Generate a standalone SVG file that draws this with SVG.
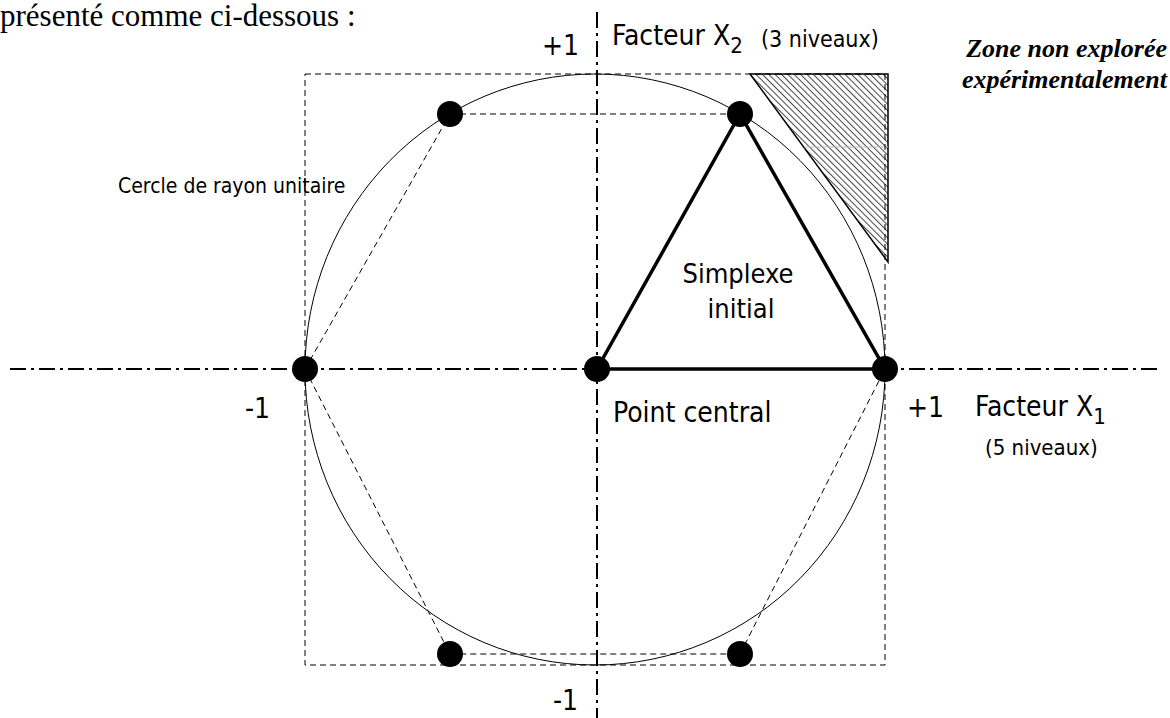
<svg xmlns="http://www.w3.org/2000/svg" width="1170" height="718" viewBox="0 0 1170 718">
<style>
.t{font-family:"DejaVu Sans Condensed","DejaVu Sans",sans-serif;font-stretch:condensed;fill:#000}
.z{font-family:"Liberation Serif",serif;font-weight:bold;font-style:italic;font-size:26px;fill:#000}
.axis{stroke:#000;stroke-width:2;stroke-dasharray:16 5 3 5;fill:none}
.dash{stroke:#000;stroke-width:1;stroke-dasharray:6 4;fill:none}
.dot{fill:#000}
</style>
<defs>
<pattern id="hatch" patternUnits="userSpaceOnUse" width="4.5" height="4.5" patternTransform="rotate(-45)">
<rect width="4.5" height="4.5" fill="#fff"/>
<line x1="0" y1="0" x2="0" y2="4.5" stroke="#444" stroke-width="2"/>
</pattern>
</defs>
<rect width="1170" height="718" fill="#fff"/>
<text x="0" y="26" font-family="Liberation Serif,serif" font-size="31">présenté comme ci-dessous :</text>
<g id="zone">
<polygon points="750,74 888,74 888,262" fill="url(#hatch)" stroke="#000" stroke-width="1.5"/>
<line x1="804" y1="147" x2="888" y2="147" stroke="#bbb" stroke-width="1"/>
</g>
<g id="square"><rect x="305" y="74" width="580" height="591" class="dash"/></g>
<g id="circle"><ellipse cx="595" cy="369.5" rx="290" ry="295.5" fill="none" stroke="#000" stroke-width="1"/></g>
<g id="axes">
<line x1="10" y1="369" x2="1162" y2="369" class="axis"/>
<line x1="597" y1="12" x2="597" y2="718" class="axis"/>
</g>
<g id="connectors">
<polyline points="450,114 740,114" class="dash"/>
<polyline points="305,369 450,114" class="dash"/>
<polyline points="305,369 450,654 740,654 885,369" class="dash"/>
<polygon points="597,369 885,369 740,114" fill="none" stroke="#000" stroke-width="3.5" stroke-linejoin="miter"/>
</g>
<g id="points">
<circle cx="305" cy="369" r="13" class="dot"/>
<circle cx="885" cy="369" r="13" class="dot"/>
<circle cx="597" cy="369" r="13" class="dot"/>
<circle cx="450" cy="114" r="13" class="dot"/>
<circle cx="740" cy="114" r="13" class="dot"/>
<circle cx="450" cy="654" r="13" class="dot"/>
<circle cx="740" cy="654" r="13" class="dot"/>
</g>
<g id="labels">
<text class="t" x="542" y="55" font-size="28">+1</text>
<text class="t" x="612" y="45" font-size="28">Facteur X<tspan font-size="22" dy="8">2</tspan></text>
<text class="t" x="761" y="47" font-size="23">(3 niveaux)</text>
<text class="z" x="1167" y="57" text-anchor="end">Zone non explorée</text>
<text class="z" x="1167" y="88" text-anchor="end">expérimentalement</text>
<text class="t" x="118" y="193" font-size="21">Cercle de rayon unitaire</text>
<text class="t" x="738" y="283" font-size="27" text-anchor="middle">Simplexe</text>
<text class="t" x="741" y="318" font-size="27" text-anchor="middle">initial</text>
<text class="t" x="613" y="422" font-size="28">Point central</text>
<text class="t" x="245" y="418" font-size="28">-1</text>
<text class="t" x="907" y="417" font-size="28">+1</text>
<text class="t" x="975" y="416" font-size="28">Facteur X<tspan font-size="22" dy="8">1</tspan></text>
<text class="t" x="985" y="455" font-size="22">(5 niveaux)</text>
<text class="t" x="553" y="710" font-size="28">-1</text>
</g>
</svg>
